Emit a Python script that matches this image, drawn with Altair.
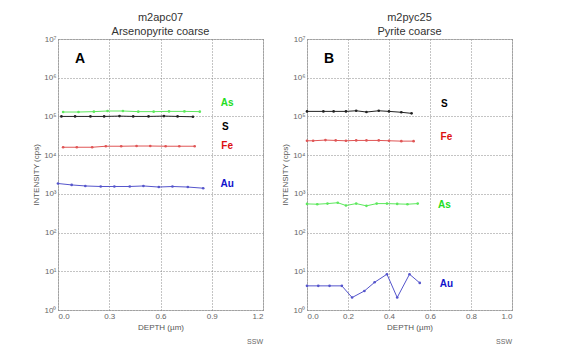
import altair as alt
import pandas as pd

# ---- Panel A: m2apc07, Arsenopyrite coarse ----
a_as_x = [0.03, 0.12, 0.21, 0.29, 0.38, 0.47, 0.56, 0.65, 0.74, 0.83]
a_as_y = [1.3e5, 1.3e5, 1.33e5, 1.38e5, 1.38e5, 1.33e5, 1.33e5, 1.35e5, 1.35e5, 1.33e5]
a_s_x = [0.02, 0.10, 0.19, 0.27, 0.36, 0.44, 0.53, 0.62, 0.70, 0.79]
a_s_y = [1.0e5, 1.0e5, 1.0e5, 1.0e5, 1.02e5, 1.0e5, 1.0e5, 1.02e5, 1.0e5, 0.98e5]
a_fe_x = [0.03, 0.11, 0.20, 0.28, 0.37, 0.46, 0.54, 0.63, 0.71, 0.80]
a_fe_y = [1.6e4, 1.6e4, 1.6e4, 1.7e4, 1.7e4, 1.72e4, 1.72e4, 1.7e4, 1.7e4, 1.7e4]
a_au_x = [0.0, 0.08, 0.16, 0.25, 0.33, 0.42, 0.50, 0.59, 0.67, 0.76, 0.85]
a_au_y = [1.85e3, 1.7e3, 1.6e3, 1.55e3, 1.55e3, 1.55e3, 1.6e3, 1.5e3, 1.55e3, 1.5e3, 1.4e3]

# ---- Panel B: m2pyc25, Pyrite coarse ----
b_s_x = [0.0, 0.08, 0.13, 0.19, 0.24, 0.29, 0.35, 0.40, 0.46, 0.51]
b_s_y = [1.35e5, 1.35e5, 1.35e5, 1.35e5, 1.4e5, 1.3e5, 1.4e5, 1.35e5, 1.28e5, 1.2e5]
b_fe_x = [0.0, 0.03, 0.09, 0.14, 0.19, 0.24, 0.29, 0.35, 0.40, 0.46, 0.52]
b_fe_y = [2.35e4, 2.35e4, 2.45e4, 2.4e4, 2.35e4, 2.4e4, 2.4e4, 2.4e4, 2.35e4, 2.3e4, 2.3e4]
b_as_x = [0.0, 0.05, 0.10, 0.15, 0.19, 0.24, 0.29, 0.34, 0.39, 0.44, 0.49, 0.54]
b_as_y = [550, 540, 560, 590, 500, 560, 490, 560, 560, 550, 540, 560]
b_au_x = [0.0, 0.055, 0.11, 0.17, 0.22, 0.28, 0.33, 0.39, 0.44, 0.50, 0.55]
b_au_y = [4.2, 4.2, 4.2, 4.2, 2.1, 3.1, 5.2, 8.4, 2.1, 8.4, 5.0]

elements = ["As", "S", "Fe", "Au"]
colors_line = ["#5de85d", "#222222", "#e05555", "#5555cc"]
colors_label = ["#22dd22", "#000000", "#dd1111", "#1111cc"]

# label positions (data coordinates), order: As, S, Fe, Au
a_lab_x = [0.99, 0.98, 0.99, 0.99]
a_lab_y = [2.2e5, 5.3e4, 1.7e4, 1.75e3]
b_lab_x = [0.67, 0.67, 0.68, 0.68]
b_lab_y = [515, 2.1e5, 3.0e4, 4.7]

y_ticks = [1, 10, 100, 1e3, 1e4, 1e5, 1e6, 1e7]
a_x_ticks = [0.0, 0.3, 0.6, 0.9, 1.2]
b_x_ticks = [0.0, 0.2, 0.4, 0.6, 0.8, 1.0]

W, H = 205, 271
sup_expr = "'10' + ['⁰','¹','²','³','⁴','⁵','⁶','⁷'][round(log(datum.value)/LN10)]"


def series_df(xs_list, ys_list):
    rows = []
    for el, xs, ys in zip(elements, xs_list, ys_list):
        for x, y in zip(xs, ys):
            rows.append({"el": el, "x": x, "y": y})
    return pd.DataFrame(rows)


def panel(df, lab_x, lab_y, xmax, xticks, title, letter):
    xs = alt.Scale(domain=[0, xmax], nice=False, zero=False)
    ys = alt.Scale(type="log", domain=[1, 1e7], nice=False)
    color = alt.Color("el:N", scale=alt.Scale(domain=elements, range=colors_line), legend=None)
    lines = alt.Chart(df).mark_line(strokeWidth=1, point=alt.OverlayMarkDef(size=7, filled=True)).encode(
        x=alt.X("x:Q", scale=xs, title="DEPTH (µm)",
                axis=alt.Axis(values=xticks, format=".1f")),
        y=alt.Y("y:Q", scale=ys, title="INTENSITY (cps)",
                axis=alt.Axis(values=y_ticks, labelExpr=sup_expr)),
        color=color,
        detail="el:N",
    )
    lab_df = pd.DataFrame({"el": elements, "x": lab_x, "y": lab_y})
    labels = alt.Chart(lab_df).mark_text(fontSize=10, fontWeight="bold", font="Liberation Sans").encode(
        x=alt.X("x:Q", scale=xs),
        y=alt.Y("y:Q", scale=ys),
        text="el:N",
        color=alt.Color("el:N", scale=alt.Scale(domain=elements, range=colors_label), legend=None),
    )
    letter_mark = alt.Chart(pd.DataFrame({"t": [letter]})).mark_text(
        fontSize=14, fontWeight="bold", font="Liberation Sans", color="black", align="left"
    ).encode(x=alt.value(17), y=alt.value(20), text="t:N")
    ssw = alt.Chart(pd.DataFrame({"t": ["SSW"]})).mark_text(
        fontSize=7, font="Liberation Sans", color="#666", align="right"
    ).encode(x=alt.value(W), y=alt.value(H + 32), text="t:N")
    return alt.layer(lines, labels, letter_mark, ssw).resolve_scale(color="independent").properties(
        width=W, height=H,
        title=alt.TitleParams(title, fontSize=11, fontWeight="normal", font="Liberation Sans",
                              color="#333", anchor="middle", lineHeight=14, offset=-2),
    )


dfa = series_df([a_as_x, a_s_x, a_fe_x, a_au_x], [a_as_y, a_s_y, a_fe_y, a_au_y])
dfb = series_df([b_as_x, b_s_x, b_fe_x, b_au_x], [b_as_y, b_s_y, b_fe_y, b_au_y])

pa = panel(dfa, a_lab_x, a_lab_y, 1.2, a_x_ticks, ["m2apc07", "Arsenopyrite coarse"], "A")
pb = panel(dfb, b_lab_x, b_lab_y, 1.0, b_x_ticks, ["m2pyc25", "Pyrite coarse"], "B")

chart = alt.hconcat(pa, pb, spacing=17).properties(
    padding={"left": 24, "top": 3, "right": 5, "bottom": 5},
    background="white",
).configure_view(
    stroke="#777", strokeDash=[1, 1], strokeWidth=1
).configure_axis(
    labelFontSize=8, labelColor="#666", labelFont="Liberation Sans",
    titleFontSize=8, titleColor="#555", titleFont="Liberation Sans", titleFontWeight="normal",
    gridColor="#888", gridDash=[1, 2], gridWidth=1,
    domain=False, ticks=False, labelPadding=2, titlePadding=3,
)

chart.save("out.html", embed_options={"renderer": "svg", "actions": False})
